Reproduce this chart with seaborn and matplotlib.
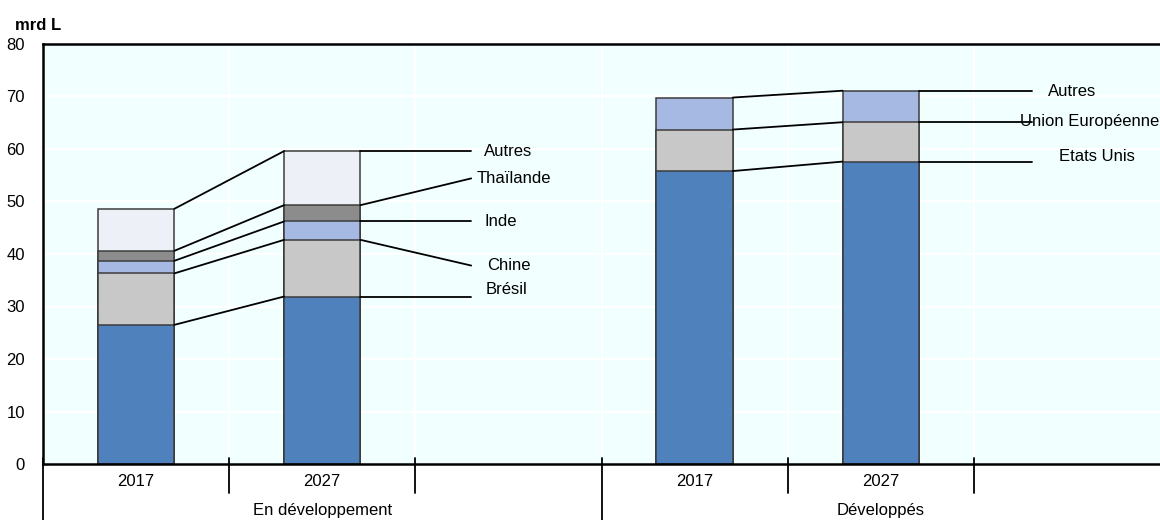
import numpy as np
import pandas as pd
import matplotlib.pyplot as plt
import matplotlib.transforms as mtransforms
import seaborn as sns

# Données (mrd L)
slots = ['d2017', 'd2027', 'gap1', 'D2017', 'D2027', 'gap2']
years = ['2017', '2027', '', '2017', '2027', '']
groups = ['En développement', 'Développés']

dev_labels = ['Brésil', 'Chine', 'Inde', 'Thaïlande', 'Autres']
dev_2017 = [26.5, 9.8, 2.4, 1.9, 8.0]
dev_2027 = [31.9, 10.8, 3.5, 3.1, 10.3]

devd_labels = ['Etats Unis', 'Union Européenne', 'Autres']
devd_2017 = [55.8, 7.9, 6.1]
devd_2027 = [57.6, 7.5, 6.0]

dev_colors = ['#4F81BD', '#C8C8C8', '#A6B9E2', '#8C8C8C', '#EEF0F8']
devd_colors = ['#4F81BD', '#C8C8C8', '#A6B9E2']

# mise en page des étiquettes (x, y du texte, y de fin du trait)
dev_lab_x = [1.99, 2.0, 1.96, 2.03, 2.0]
dev_lab_y = [33.2, 37.8, 46.2, 54.4, 59.6]
dev_lead_y = [None, 37.8, None, 54.4, None]
devd_lab_x = [5.16, 5.12, 5.03]
devd_lab_y = [58.5, 65.2, 70.9]

sns.set_style('white')
plt.rcParams['font.family'] = ['Liberation Sans Narrow', 'Liberation Sans', 'DejaVu Sans']
plt.rcParams['font.size'] = 12
plt.rcParams['text.color'] = 'black'
plt.rcParams['ytick.color'] = 'black'
plt.rcParams['ytick.labelcolor'] = 'black'

fig = plt.figure(figsize=(11.6, 5.2), dpi=100)
ax = fig.add_axes([43 / 1160, 56 / 520, 1 - 43 / 1160, 420 / 520])
ax.set_facecolor('#F2FFFF')

W = 0.41
EDGE = '#3C3C3C'


def stacked(ax, names, values, colors):
    cum = np.cumsum(np.array(values), axis=1)
    # on dessine du haut vers le bas pour superposer les segments
    for k in range(cum.shape[1] - 1, -1, -1):
        df = pd.DataFrame({'slot': names, 'top': cum[:, k]})
        sns.barplot(data=df, x='slot', y='top', order=slots, color=colors[k],
                    saturation=1, width=W, edgecolor=EDGE, linewidth=1.1, ax=ax)
    return cum


cum_dev = stacked(ax, ['d2017', 'd2027'], [dev_2017, dev_2027], dev_colors)
cum_devd = stacked(ax, ['D2017', 'D2027'], [devd_2017, devd_2027], devd_colors)

# traits de liaison entre les barres et vers les étiquettes
x0 = slots.index('d2017')
x1 = slots.index('d2027')
line_end = x1 + 0.80
for k, lab in enumerate(dev_labels):
    a, b = cum_dev[0, k], cum_dev[1, k]
    ax.plot([x0 + W / 2, x1 - W / 2], [a, b], color='black', lw=1.3, zorder=3)
    ly = dev_lead_y[k] if dev_lead_y[k] is not None else b
    ax.plot([x1 + W / 2, line_end], [b, ly], color='black', lw=1.3, zorder=3)
    ax.text(dev_lab_x[k], dev_lab_y[k], lab, ha='center', va='center', fontsize=12)

x0 = slots.index('D2017')
x1 = slots.index('D2027')
line_end = x1 + 0.81
for k, lab in enumerate(devd_labels):
    a, b = cum_devd[0, k], cum_devd[1, k]
    ax.plot([x0 + W / 2, x1 - W / 2], [a, b], color='black', lw=1.3, zorder=3)
    ax.plot([x1 + W / 2, line_end], [b, b], color='black', lw=1.3, zorder=3)
    ax.text(devd_lab_x[k], devd_lab_y[k], lab, ha='center', va='center', fontsize=12)

# grille blanche
for y in range(10, 80, 10):
    ax.axhline(y, color='white', lw=1.5, zorder=0.5)
for x in [0.5, 1.5, 2.5, 3.5, 4.5]:
    ax.axvline(x, color='white', lw=1.5, zorder=0.5)

ax.set_xlim(-0.5, 5.5)
ax.set_ylim(0, 80)
ax.set_yticks(range(0, 81, 10))
ax.tick_params(axis='y', direction='in', length=5, width=1.5, pad=13, labelsize=12)
ax.set_xticks([])
ax.set_xlabel('')
ax.set_ylabel('')
for side in ['top', 'left', 'bottom']:
    ax.spines[side].set_visible(True)
    ax.spines[side].set_color('black')
    ax.spines[side].set_linewidth(1.8)
ax.spines['right'].set_visible(False)

# axe catégoriel à deux niveaux
trans = mtransforms.blended_transform_factory(ax.transData, ax.transAxes)
for i, yr in enumerate(years):
    if yr:
        ax.text(i, -0.042, yr, transform=trans, ha='center', va='center', fontsize=12)
for x in [0.5, 1.5, 3.5, 4.5]:
    ax.plot([x, x], [0.015, -0.07], transform=trans, color='black', lw=1.3, clip_on=False)
for x in [-0.5, 2.5]:
    ax.plot([x, x], [0.015, -0.14], transform=trans, color='black', lw=1.3, clip_on=False)
ax.text(1, -0.11, groups[0], transform=trans, ha='center', va='center', fontsize=12)
ax.text(4, -0.11, groups[1], transform=trans, ha='center', va='center', fontsize=12)

fig.text(15 / 1160, 1 - 25 / 520, 'mrd L', ha='left', va='center', fontsize=12, fontweight='bold')

fig.savefig('out.png', dpi=100)
